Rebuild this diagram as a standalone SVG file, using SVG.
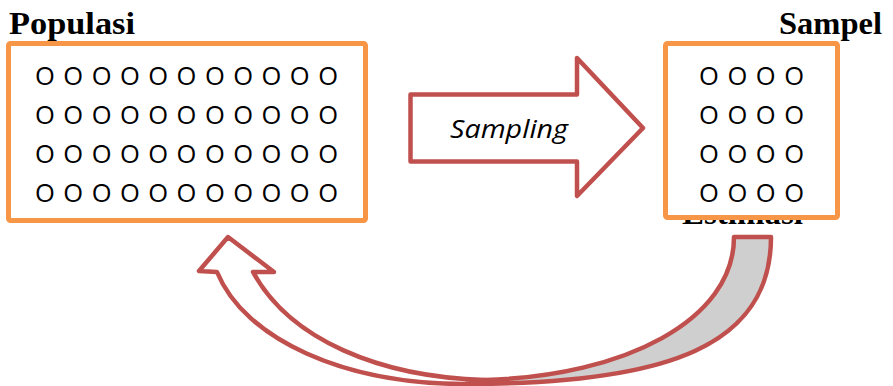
<svg xmlns="http://www.w3.org/2000/svg" width="893" height="386" viewBox="0 0 893 386">
  <style>
    .title { font-family: "Liberation Serif", "Times New Roman", serif; font-weight: bold; font-size: 31px; fill: #000; }
    .dots { font-family: "Open Sans", "DejaVu Sans", sans-serif; font-size: 25.5px; fill: #000; }
    .box { fill: #fff; stroke: #F79646; stroke-width: 5; }
    .red { stroke: #C0504D; stroke-width: 4.5; stroke-linejoin: round; }
    .label { font-family: "Open Sans", "DejaVu Sans", sans-serif; font-style: italic; font-size: 26px; fill: #000; }
  </style>
  <defs>
    <clipPath id="below-sample">
      <rect x="660" y="219" width="200" height="20"/>
    </clipPath>
  </defs>
  <rect width="893" height="386" fill="#fff"/>

  <!-- estimation label, mostly tucked behind the sample box -->
  <text class="title" x="682" y="224" textLength="121" lengthAdjust="spacingAndGlyphs" clip-path="url(#below-sample)">Estimasi</text>

  <g id="populasi">
    <text class="title" x="9" y="34" textLength="126" lengthAdjust="spacingAndGlyphs">Populasi</text>
    <rect class="box" x="8.5" y="43.5" width="357" height="177" rx="2"/>
    <text class="dots" x="35" y="85" textLength="303" lengthAdjust="spacing">O O O O O O O O O O O</text>
    <text class="dots" x="35" y="124" textLength="303" lengthAdjust="spacing">O O O O O O O O O O O</text>
    <text class="dots" x="35" y="163" textLength="303" lengthAdjust="spacing">O O O O O O O O O O O</text>
    <text class="dots" x="35" y="202" textLength="303" lengthAdjust="spacing">O O O O O O O O O O O</text>
  </g>

  <g id="sampel">
    <text class="title" x="779" y="34" textLength="103" lengthAdjust="spacingAndGlyphs">Sampel</text>
    <rect class="box" x="665.5" y="43.5" width="172" height="174" rx="2"/>
    <text class="dots" x="699" y="85" textLength="105" lengthAdjust="spacing">O O O O</text>
    <text class="dots" x="699" y="124" textLength="105" lengthAdjust="spacing">O O O O</text>
    <text class="dots" x="699" y="163" textLength="105" lengthAdjust="spacing">O O O O</text>
    <text class="dots" x="699" y="202" textLength="105" lengthAdjust="spacing">O O O O</text>
  </g>

  <g id="connectors">
    <!-- block arrow: population to sample -->
    <g id="sampling">
      <path class="red" fill="#fff" d="M410.5,94.5 L577,94.5 L577,58 L643,128 L577,196 L577,161.5 L410.5,161.5 Z"/>
      <text class="label" x="450" y="138" textLength="118" lengthAdjust="spacingAndGlyphs">Sampling</text>
    </g>
    <!-- curved arrow: sample back to population -->
    <g id="estimasi-arrow">
      <path class="red" fill="#CFCFCF" d="M734,237 L771,237 C771,345 670,384 465,384 L485,380 C625,376 734,320 734,237 Z"/>
      <path class="red" fill="#fff" d="M217,272 C245,340 345,384 465,384 L485,380 C380,377 290,340 253,272 L274,272 L228,237 L199,271 Z"/>
    </g>
  </g>
</svg>
